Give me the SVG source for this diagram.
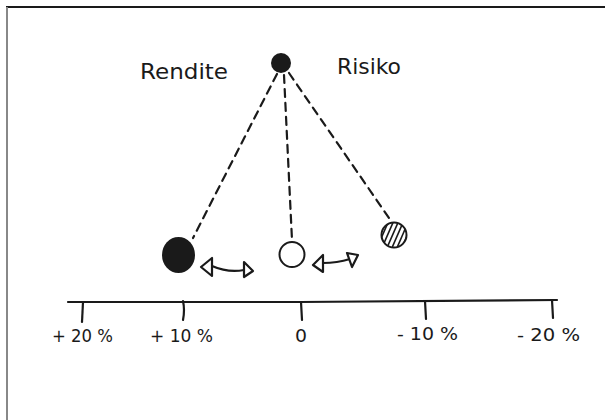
<svg xmlns="http://www.w3.org/2000/svg" width="605" height="420" viewBox="0 0 605 420">
<style>
.lbl{font-family:"DejaVu Sans","Liberation Sans",sans-serif;fill:#1a1a1a}
.big{font-size:22px}
.ax{font-size:17px}
.dash{fill:none;stroke:#1a1a1a;stroke-width:2.2;stroke-dasharray:8 6;stroke-linecap:round}
.ln{fill:none;stroke:#1a1a1a;stroke-width:2.2;stroke-linecap:round;stroke-linejoin:round}
.tri{fill:#fff;stroke:#1a1a1a;stroke-width:2.2;stroke-linejoin:round}
</style>
<defs>
<clipPath id="hc"><circle cx="394" cy="235" r="12.5"/></clipPath>
</defs>
<rect x="0" y="0" width="605" height="420" fill="#fff"/>
<line x1="6" y1="7" x2="605" y2="7" stroke="#1a1a1a" stroke-width="2"/>
<line x1="7" y1="7" x2="7" y2="420" stroke="#888" stroke-width="2"/>

<g id="connectors">
<path class="dash" d="M277,74 L193,238"/>
<path class="dash" d="M284,75 L292,240"/>
<path class="dash" d="M289,73 L389,218"/>
<g id="arrow1">
<path class="ln" d="M212,266 Q228,273 244,270"/>
<polygon class="tri" points="201,267 212,258 212,276"/>
<polygon class="tri" points="244,262 253,271 244,277"/>
</g>
<g id="arrow2">
<path class="ln" d="M323,263 Q337,263 350,259"/>
<polygon class="tri" points="313,265 323,255 323,272"/>
<polygon class="tri" points="347,253 358,255 352,267"/>
</g>
</g>

<g id="pivot"><circle cx="281" cy="63" r="10" fill="#1a1a1a"/></g>
<g id="label-rendite"><text class="lbl big" x="140" y="79" textLength="88" lengthAdjust="spacingAndGlyphs">Rendite</text></g>
<g id="label-risiko"><text class="lbl big" x="337" y="74" textLength="64" lengthAdjust="spacingAndGlyphs">Risiko</text></g>

<g id="ball-left"><ellipse cx="178.5" cy="255" rx="16.5" ry="18" fill="#1a1a1a"/></g>
<g id="ball-middle"><circle cx="292" cy="254.5" r="12.5" fill="#fff" stroke="#1a1a1a" stroke-width="2"/></g>
<g id="ball-right">
<circle cx="394" cy="235" r="12.5" fill="#fff"/>
<g clip-path="url(#hc)" stroke="#1a1a1a" stroke-width="1.6">
<line x1="376" y1="250" x2="390" y2="218"/>
<line x1="381" y1="250" x2="395" y2="218"/>
<line x1="386" y1="250" x2="400" y2="218"/>
<line x1="391" y1="250" x2="405" y2="218"/>
<line x1="396" y1="250" x2="410" y2="218"/>
<line x1="401" y1="250" x2="415" y2="218"/>
</g>
<circle cx="394" cy="235" r="12.5" fill="none" stroke="#1a1a1a" stroke-width="2"/>
</g>

<g id="axis">
<path class="ln" d="M68,302 L300,302 L557,300"/>
<path class="ln" d="M83,302 L82,322"/>
<path class="ln" d="M183,301 Q185,310 183,320"/>
<path class="ln" d="M301,302 L302,320"/>
<path class="ln" d="M425,301 L426,319"/>
<path class="ln" d="M552,300 L553,318"/>
</g>
<g id="ticklabels">
<text class="lbl ax" x="52" y="342" textLength="61" lengthAdjust="spacingAndGlyphs">+ 20 %</text>
<text class="lbl ax" x="150" y="342" textLength="63" lengthAdjust="spacingAndGlyphs">+ 10 %</text>
<text class="lbl ax" x="295" y="342" textLength="12" lengthAdjust="spacingAndGlyphs">0</text>
<text class="lbl ax" x="397" y="340" textLength="61" lengthAdjust="spacingAndGlyphs">- 10 %</text>
<text class="lbl ax" x="517" y="341" textLength="63" lengthAdjust="spacingAndGlyphs">- 20 %</text>
</g>
</svg>
